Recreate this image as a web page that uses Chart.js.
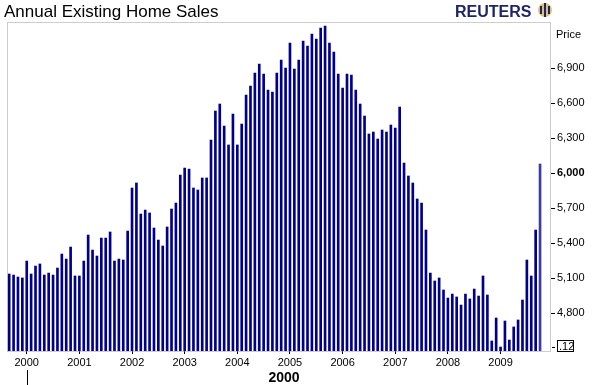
<!DOCTYPE html>
<html>
<head>
<meta charset="utf-8">
<script src="https://cdn.jsdelivr.net/npm/chart.js@4.4.1/dist/chart.umd.min.js"></script>
<style>
  body { margin: 0; background: #fff; }
  #wrap { width: 595px; height: 385px; }
</style>
</head>
<body>
<div id="wrap"><canvas id="salesChart" width="595" height="385"></canvas></div>
<script>
// monthly annual-rate sales, Sep 1999 .. Oct 2009 (thousands)
const sales1999 = [5137, 5128, 5111, 5103];
const sales2000 = [5248, 5137, 5205, 5223, 5128, 5145, 5128, 5188, 5308, 5265, 5368, 5120];
const sales2001 = [5120, 5248, 5471, 5342, 5291, 5445, 5445, 5497, 5248, 5265, 5257, 5505];
const sales2002 = [5874, 5917, 5651, 5685, 5660, 5531, 5428, 5377, 5540, 5694, 5745, 5985];
const sales2003 = [6045, 6036, 5874, 5857, 5960, 5960, 6285, 6534, 6594, 6405, 6243, 6508];
const sales2004 = [6243, 6422, 6671, 6748, 6860, 6937, 6851, 6714, 6697, 6860, 6971, 6902];
const sales2005 = [7117, 6894, 6971, 7134, 7091, 7194, 7151, 7245, 7262, 7117, 7040, 6851];
const sales2006 = [6731, 6851, 6842, 6714, 6594, 6491, 6337, 6354, 6294, 6371, 6354, 6414];
const sales2007 = [6388, 6568, 6088, 5977, 5917, 5780, 5745, 5514, 5145, 5077, 5103, 5000];
const sales2008 = [4931, 4965, 4940, 4871, 4965, 4923, 5008, 4948, 5120, 4957, 4563, 4760];
const sales2009 = [4511, 4734, 4571, 4683, 4743, 4914, 5257, 5120, 5514, 6080];

const yTicks = [4800, 5100, 5400, 5700, 6000, 6300, 6600, 6900];
const yMin = 4477;
const yMax = 7297;

// axis runs Sep 1999 .. Dec 2009
const months = [];
for (let y = 1999, m = 9; y < 2010; ) {
  months.push(y + "-" + String(m).padStart(2, "0"));
  m++;
  if (m > 12) { m = 1; y++; }
}

const values = [].concat(sales1999, sales2000, sales2001, sales2002, sales2003,
  sales2004, sales2005, sales2006, sales2007, sales2008, sales2009);

const FONT = "'Liberation Sans', Arial, sans-serif";
const isJan = (i) => months[i] && months[i].endsWith("-01");

const decor = {
  id: "decor",
  afterDraw(chart) {
    const ctx = chart.ctx;
    const a = chart.chartArea;
    ctx.save();

    // dotted frame round the plot
    ctx.strokeStyle = "#9a9a9a";
    ctx.lineWidth = 1;
    ctx.setLineDash([1, 1]);
    ctx.strokeRect(a.left + 0.5, a.top + 0.5, a.right - a.left - 1, a.bottom - a.top);
    ctx.setLineDash([]);

    // title
    ctx.fillStyle = "#000";
    ctx.font = "17px " + FONT;
    ctx.textBaseline = "alphabetic";
    ctx.textAlign = "left";
    ctx.fillText("Annual Existing Home Sales", 4, 17);

    // logo
    ctx.fillStyle = "#1f2468";
    ctx.font = "bold 16px " + FONT;
    ctx.fillText("REUTERS", 455, 17);
    ctx.beginPath();
    ctx.arc(545, 10, 7, 0, Math.PI * 2);
    ctx.fillStyle = "#d9c37a";
    ctx.fill();
    ctx.fillStyle = "#1f2468";
    ctx.fillRect(544, 3, 2, 14);
    ctx.fillRect(540, 6, 2, 8);
    ctx.fillRect(548, 6, 2, 8);

    // axis caption
    ctx.fillStyle = "#000";
    ctx.font = "11px " + FONT;
    ctx.fillText("Price", 556, 38);

    // last value box
    ctx.fillRect(552, 347, 3, 1);
    ctx.strokeStyle = "#000";
    ctx.strokeRect(557.5, 340.5, 16, 11);
    ctx.fillText(".12", 559, 350);

    // lower time axis
    ctx.fillRect(27, 370, 1, 15);
    ctx.font = "bold 14px " + FONT;
    ctx.textAlign = "center";
    ctx.fillText("2000", 284, 382);
    ctx.restore();
  }
};

new Chart(document.getElementById("salesChart"), {
  type: "bar",
  data: {
    labels: months,
    datasets: [{
      data: values,
      base: yMin,
      barThickness: 2,
      backgroundColor: (c) => c.dataIndex === values.length - 1 ? "#3b3ba3" : "#00008b",
      borderWidth: 0
    }]
  },
  options: {
    responsive: false,
    animation: false,
    layout: { padding: { top: 22, left: 7, right: 0, bottom: 0 } },
    plugins: { legend: { display: false }, tooltip: { enabled: false } },
    scales: {
      x: {
        grid: {
          offset: false,
          drawOnChartArea: false,
          tickLength: 3,
          color: (c) => isJan(c.index) ? "#000" : "rgba(0,0,0,0)"
        },
        border: { display: false },
        ticks: {
          autoSkip: false,
          maxRotation: 0,
          padding: 2,
          color: "#000",
          font: { family: FONT, size: 11 },
          callback: function (v, i) {
            return isJan(i) ? months[i].slice(0, 4) : "";
          }
        },
        afterFit(scale) { scale.height = 34; }
      },
      y: {
        position: "right",
        min: yMin,
        max: yMax,
        afterBuildTicks(scale) {
          scale.ticks = yTicks.map((v) => ({ value: v }));
        },
        grid: { drawOnChartArea: false, tickLength: 4, color: "#000" },
        border: { display: false },
        ticks: {
          padding: 2,
          color: "#000",
          font: (c) => ({ family: FONT, size: 11, weight: c.tick && c.tick.value === 6000 ? "bold" : "normal" }),
          callback: (v) => v.toLocaleString("en-US")
        },
        afterFit(scale) { scale.width = 44; }
      }
    }
  },
  plugins: [decor]
});
</script>
</body>
</html>
